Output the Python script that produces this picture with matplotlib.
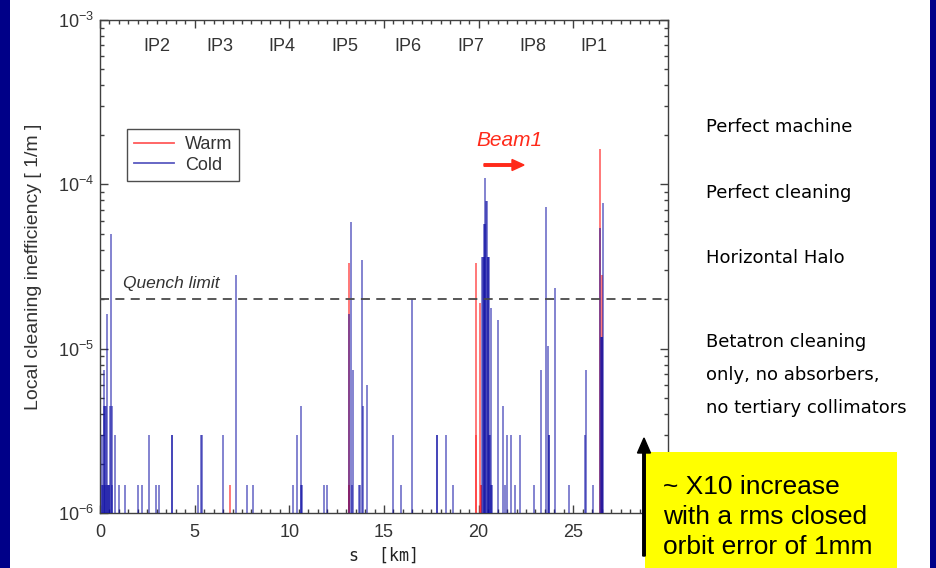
import matplotlib
matplotlib.use("Agg")
import matplotlib.pyplot as plt
from matplotlib.patches import Rectangle, FancyArrow
from matplotlib.ticker import FixedLocator, LogLocator, NullFormatter

plt.rcParams['font.family'] = ['Liberation Sans', 'DejaVu Sans']
plt.rcParams['mathtext.default'] = 'regular'

# ---------------- data ----------------
L1, L2, L3 = 1.48e-6, 2.97e-6, 4.45e-6

cold_s = [0.08, 0.13, 0.17, 0.21, 0.23, 0.26, 0.29, 0.32, 0.35, 0.38, 0.42, 0.46, 0.50,
          0.54, 0.58, 0.61, 0.65, 0.79, 1.00, 1.32, 1.99, 2.20, 2.58, 2.95, 3.13,
          3.78, 3.81, 5.15, 5.34, 5.38, 6.50, 7.17, 7.79, 8.09, 10.18, 10.42, 10.60,
          10.64, 10.67, 11.81, 11.99, 13.15, 13.27, 13.30, 13.36, 13.68, 13.72, 13.85,
          13.88, 14.10, 15.50, 15.90, 16.49, 17.78, 17.81, 18.25, 18.64,
          20.20, 20.23, 20.26, 20.29, 20.33, 20.36, 20.40, 20.43, 20.47, 20.50, 20.53,
          20.57, 20.60, 20.64, 20.67, 20.70, 21.04, 21.27, 21.40, 21.50, 21.69, 21.92,
          22.17, 22.93, 23.31, 23.56, 23.68, 23.71, 23.74, 24.03, 24.79, 25.63, 25.66,
          26.02, 26.42, 26.46, 26.49, 26.52, 26.58]
cold_v = [L2, L1, L1, L3, 7.4e-6, L3, L1, L3, 1.63e-5, L1, L1, L1, L1,
          L3, 5.0e-5, L3, L1, L2, L1, L1, L1, L1, L2, L1, L1,
          L2, L2, L1, L2, L2, L2, 2.8e-5, L1, L1, L1, L2, L3,
          L1, L1, L1, L1, 1.63e-5, 5.9e-5, L1, 7.4e-6, L1, L1, 3.45e-5,
          L3, 6.0e-6, L2, L1, 2.0e-5, L2, L2, L2, L1,
          3.6e-5, 3.6e-5, 3.6e-5, 5.7e-5, 5.7e-5, 1.09e-4, 7.9e-5, 7.9e-5, 3.6e-5, 3.6e-5, 3.6e-5,
          L2, L2, 1.78e-5, L1, L1, 1.49e-5, L3, L1, L2, L2, L1,
          L2, L1, 7.4e-6, 7.3e-5, 1.04e-5, L2, L2, 2.35e-5, L1, L2, 7.4e-6,
          L1, 5.4e-5, 1.18e-5, 1.18e-5, 1.18e-5, 7.7e-5]

warm_s = [6.84, 13.13, 13.15, 13.17, 19.86, 19.88, 20.08, 20.10, 20.13, 26.42, 26.53]
warm_v = [L1, L1, 3.3e-5, L1, L2, 3.3e-5, 1.9e-5, L1, L1, 1.63e-4, 2.8e-5]

quench_limit = 2.0e-5
ip_names = ['IP2', 'IP3', 'IP4', 'IP5', 'IP6', 'IP7', 'IP8', 'IP1']
ip_pos = [3.02, 6.33, 9.58, 12.92, 16.29, 19.56, 22.86, 26.10]
x_ticks = [0, 5, 10, 15, 20, 25, 30]
x_ticklabels = ['0', '5', '10', '15', '20', '25', '']
y_ticks = [1e-6, 1e-5, 1e-4, 1e-3]
y_ticklabels = ['10$^{-6}$', '10$^{-5}$', '10$^{-4}$', '10$^{-3}$']

side_notes = ['Perfect machine', 'Perfect cleaning', 'Horizontal Halo',
              'Betatron cleaning', 'only, no absorbers,', 'no tertiary collimators']
box_text = '~ X10 increase\nwith a rms closed\norbit error of 1mm'

# ---------------- figure ----------------
W, H = 936, 568
fig = plt.figure(figsize=(W / 100, H / 100), dpi=100)
fig.patch.set_facecolor('white')

ax = fig.add_axes([100 / W, 1 - 513 / H, 568 / W, 493 / H])
ax.set_yscale('log')
ax.set_xlim(0, 30)
ax.set_ylim(1e-6, 1e-3)

warm_col = '#ff3030'
cold_col = (0.05, 0.05, 0.64)
ax.vlines(warm_s, 1e-6, warm_v, colors=warm_col, alpha=0.7, linewidth=1.3, zorder=2)
ax.vlines(cold_s, 1e-6, cold_v, colors=[cold_col], alpha=0.55, linewidth=1.3, zorder=3)

ax.axhline(quench_limit, color='#4a4a4a', linestyle=(0, (5, 3.5)), linewidth=1.3, zorder=4)
ax.text(1.2, 2.25e-5, 'Quench limit', fontsize=12.5, style='italic', color='#333333',
        ha='left', va='bottom')

for name, p in zip(ip_names, ip_pos):
    ax.text(p, 0.946, name, transform=ax.get_xaxis_transform(), fontsize=13,
            color='#333333', ha='center', va='center')

# legend
ax.plot([], [], color='#ff5a5a', linewidth=1.3, label='Warm')
ax.plot([], [], color='#5a5ac0', linewidth=1.3, label='Cold')
leg = ax.legend(loc='upper left', bbox_to_anchor=(0.0475, 0.779), borderaxespad=0,
                fontsize=13, frameon=True, fancybox=False, handlelength=2.2,
                borderpad=0.4, labelspacing=0.2, handletextpad=0.6)
leg.get_frame().set_edgecolor('#222222')
leg.get_frame().set_linewidth(1.0)
for t in leg.get_texts():
    t.set_color('#333333')

# ticks
ax.xaxis.set_major_locator(FixedLocator(x_ticks))
ax.xaxis.set_minor_locator(FixedLocator([i * 0.5 for i in range(61)]))
ax.set_xticklabels(x_ticklabels)
ax.yaxis.set_major_locator(FixedLocator(y_ticks))
ax.set_yticklabels(y_ticklabels)
ax.yaxis.set_minor_locator(LogLocator(base=10, subs=range(2, 10)))
ax.yaxis.set_minor_formatter(NullFormatter())
ax.tick_params(which='both', direction='in', top=True, right=True, colors='#404040',
               labelcolor='#333333', labelsize=13)
ax.tick_params(which='major', length=6, width=1)
ax.tick_params(which='minor', length=3, width=1)
ax.tick_params(axis='x', pad=8)
ax.tick_params(axis='y', pad=4)
for sp in ax.spines.values():
    sp.set_color('#404040')
    sp.set_linewidth(1.0)

ax.set_ylabel('Local cleaning inefficiency [ 1/m ]', fontsize=14, color='#333333',
              labelpad=12)
ax.set_xlabel('s  [km]', fontsize=12, family='DejaVu Sans Mono', color='#222222',
              labelpad=4)

# ---------------- overlay (slide decorations) ----------------
ov = fig.add_axes([0, 0, 1, 1], zorder=10)
ov.set_xlim(0, W)
ov.set_ylim(H, 0)
ov.axis('off')
ov.patch.set_alpha(0)

ov.add_patch(Rectangle((0, 0), 10, H, facecolor='#000088', edgecolor='none'))
ov.add_patch(Rectangle((930, 0), 6, H, facecolor='#000088', edgecolor='none'))

ov.text(509, 140, 'Beam1', fontsize=15, style='italic', color='#ff2a1a',
        ha='center', va='center')
ov.add_patch(FancyArrow(484, 165, 40, 0, width=2.5, head_width=11, head_length=12,
                        length_includes_head=True, color='#ff2a1a'))

note_y = [127, 193, 258, 342, 375, 408]
for t, y in zip(side_notes, note_y):
    ov.text(706, y, t, fontsize=13, color='black', ha='left', va='center',
            family='DejaVu Sans')

ov.add_patch(Rectangle((645, 452), 252, 120, facecolor='#ffff00', edgecolor='none'))
ov.text(663, 517, box_text, fontsize=19, color='black', ha='left', va='center',
        linespacing=1.32)
ov.add_patch(FancyArrow(644, 556, 0, -118, width=2.5, head_width=13, head_length=15,
                        length_includes_head=True, color='black'))

fig.savefig('out.png', dpi=100)
